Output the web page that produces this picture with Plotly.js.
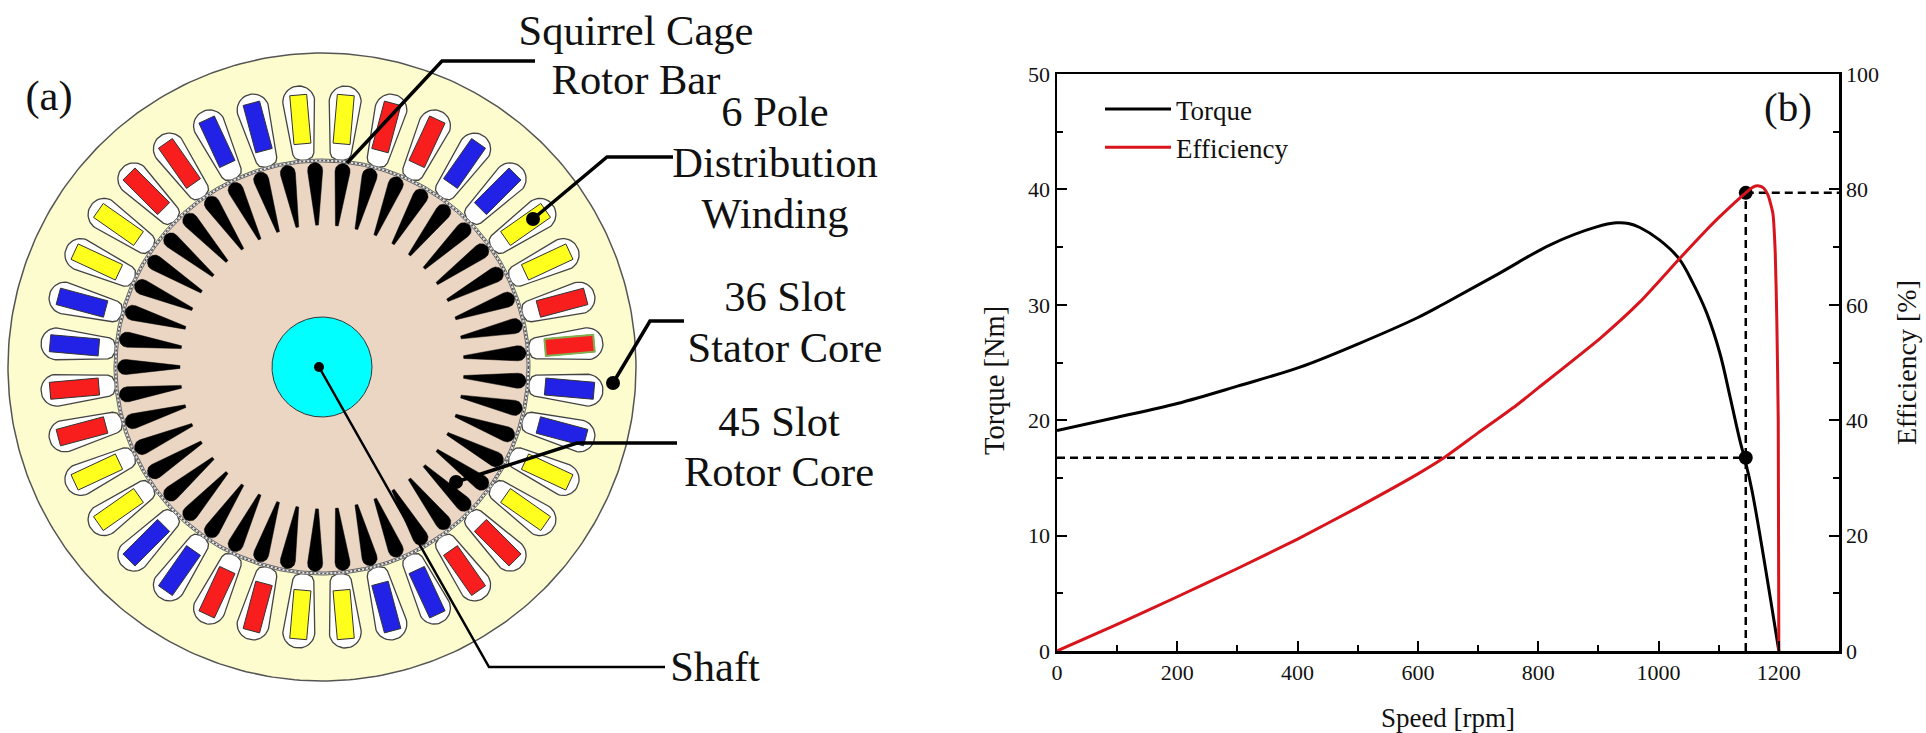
<!DOCTYPE html>
<html><head><meta charset="utf-8">
<script src="https://cdn.plot.ly/plotly-3.0.1.min.js"></script>
<style>html,body{margin:0;padding:0;background:#fff}#c{width:1926px;height:733px}</style>
</head><body><div id="c"></div>
<script>
// ---------- panel (b): values ----------
const torqueSpeed = [0,100,200,300,404,500,600,642,736,820,897,930,950,969,1002,1034,1057,1080,1102,1119,1135,1143,1155,1200];
const torqueValue = [19.1,20.25,21.45,22.95,24.6,26.6,28.9,30.05,32.75,35.2,36.75,37.1,37.05,36.7,35.6,34.0,31.9,29.3,25.8,22.0,18.3,16.7,14.0,0];
const effSpeed = [0,100,200,300,400,500,600,642,700,764,800,903,969,1034,1080,1100,1135,1157,1167,1175,1182,1190,1194,1196.6,1199,1200];
const effValue = [0,4.6,9.4,14.3,19.4,24.9,30.7,33.4,37.8,42.6,45.6,54.2,60.5,67.9,73,75.1,78.5,80.4,80.6,80.2,79,75.9,69,57.4,40,0];
const ratedSpeed = 1145, ratedTorque = 16.75, ratedEff = 79.4;
const xTicks = [0,200,400,600,800,1000,1200];
const yTicks = [0,10,20,30,40,50];
const y2Ticks = [0,20,40,60,80,100];

// ---------- panel (a): motor cross-section, lengths in image px from the shaft centre ----------
const windingPhases = ['Y','Y','R','R','B','B']; // repeats, clockwise, starting at 355 deg then +10 deg per slot
const statorSlots = 36, rotorSlots = 45;
const labels = ['Squirrel Cage','Rotor Bar','6 Pole','Distribution','Winding','36 Slot','Stator Core','45 Slot','Rotor Core','Shaft','(a)'];
const labelX = [314,314,453,453,453,463,463,457,457,393,-273];
const labelY = [-333,-284,-252,-201,-150,-67,-16,58,108,303,-268];
const leaderRotorBarX = [25,120,213], leaderRotorBarY = [-204,-306,-306];
const leaderWindingX = [211,285,351], leaderWindingY = [-148,-210,-210];
const leaderStatorX = [291,328,362], leaderStatorY = [16,-46,-46];
const leaderRotorX = [134,255,355], leaderRotorY = [115,76,76];
const leaderShaftX = [-3,167,343], leaderShaftY = [0,300,300];
const dotX = [211,291,134], dotY = [-148,16,115];

const cols = {Y:'#FFFF1E', R:'#F81E1E', B:'#2222E6'};
function circle(r){const x=[],y=[];for(let i=0;i<=360;i++){const a=i/360*2*Math.PI;x.push(r*Math.cos(a));y.push(r*Math.sin(a));}return {x,y};}
function radial(poly,deg){const a=deg*Math.PI/180,s=Math.sin(a),c=Math.cos(a),x=[],y=[];
  poly.forEach(p=>{x.push(p[0]*s+p[1]*c);y.push(-p[0]*c+p[1]*s);});x.push(x[0]);y.push(y[0]);return {x,y};}
function mirrored(side){return side.concat(side.slice().reverse().map(p=>[p[0],-p[1]]));}
const slotSide=[[206,1.5],[208,4],[210,8.5],[214,10.5],[224,11.5]];
for(let i=0;i<12;i++){const a=i/12*Math.PI/2;slotSide.push([266+16*Math.sin(a),16*Math.cos(a)]);}
const slotPoly=mirrored(slotSide);
const copperPoly=[[224,-8.5],[273,-8.5],[273,8.5],[224,8.5]];
const barPoly=mirrored([[142,1.4],[170,4.8],[196,7.5],[200,7],[203,4.5],[204.5,1]]);
function group(list){const x=[],y=[];list.forEach(g=>{x.push(...g.x,null);y.push(...g.y,null);});return {x,y};}

const motor=(g,fill,line,w,dash)=>({type:'scatter',mode:'lines',x:g.x,y:g.y,xaxis:'x3',yaxis:'y3',fill:fill?'toself':'none',fillcolor:fill||undefined,
  line:{color:line,width:w,dash:dash||'solid'},hoverinfo:'skip',showlegend:false});
const stroke=(x,y,w)=>({type:'scatter',mode:'lines',x,y,xaxis:'x3',yaxis:'y3',line:{color:'#000',width:w},hoverinfo:'skip',showlegend:false});

const traces=[];
traces.push(motor(circle(314),'#FCFCCE','#555',1.5));
const slotAngles=[];for(let i=0;i<statorSlots;i++)slotAngles.push(-5+i*360/statorSlots);
traces.push(motor(group(slotAngles.map(a=>radial(slotPoly,a))),'#FFFFFF','#444',1.3));
['Y','R','B'].forEach(k=>{
  const list=slotAngles.filter((a,i)=>windingPhases[i%windingPhases.length]===k).map(a=>radial(copperPoly,a));
  traces.push(motor(group(list),cols[k],'#333',1));
});
traces.push(motor(radial(copperPoly,85),cols.R,'#7FB050',2));
traces.push(motor(circle(208),'#E4E4E4','#666',1));
traces.push(motor(circle(206.5),null,'#555',1.6,'2px,2px'));
traces.push(motor(circle(205),'#EBD6C3','#666',1));
const barAngles=[];for(let i=0;i<rotorSlots;i++)barAngles.push(-2+i*360/rotorSlots);
traces.push(motor(group(barAngles.map(a=>radial(barPoly,a))),'#000','#000',0.5));
traces.push(motor(circle(50),'#00FFFF','#333',1));
traces.push(stroke(leaderRotorBarX,leaderRotorBarY,3.5));
traces.push(stroke(leaderWindingX,leaderWindingY,3.5));
traces.push(stroke(leaderStatorX,leaderStatorY,3.5));
traces.push(stroke(leaderRotorX,leaderRotorY,3.5));
traces.push(stroke(leaderShaftX,leaderShaftY,2.5));
traces.push({type:'scatter',mode:'markers',x:dotX,y:dotY,xaxis:'x3',yaxis:'y3',marker:{color:'#000',size:14},hoverinfo:'skip',showlegend:false});
traces.push({type:'scatter',mode:'markers',x:[leaderShaftX[0]],y:[leaderShaftY[0]],xaxis:'x3',yaxis:'y3',marker:{color:'#000',size:10},hoverinfo:'skip',showlegend:false});
traces.push({type:'scatter',mode:'text',x:labelX,y:labelY,text:labels,xaxis:'x3',yaxis:'y3',textposition:'middle center',
  textfont:{family:'Liberation Serif',size:42.5,color:'#111'},hoverinfo:'skip',showlegend:false,cliponaxis:false});

// chart (b)
traces.push({type:'scatter',mode:'lines',name:'Torque',x:torqueSpeed,y:torqueValue,line:{color:'#000',width:3,shape:'spline',smoothing:1}});
traces.push({type:'scatter',mode:'lines',name:'Efficiency',x:effSpeed,y:effValue,yaxis:'y2',line:{color:'#D8141C',width:3,shape:'spline',smoothing:0.5}});
const dash=(x,y)=>({type:'scatter',mode:'lines',x,y,line:{color:'#000',width:2.5,dash:'8px,5px'},hoverinfo:'skip',showlegend:false});
traces.push(dash([0,ratedSpeed],[ratedTorque,ratedTorque]));
traces.push(dash([ratedSpeed,ratedSpeed],[0,ratedEff/2]));
traces.push(dash([ratedSpeed,1300],[ratedEff/2,ratedEff/2]));
traces.push({type:'scatter',mode:'markers',x:[ratedSpeed,ratedSpeed],y:[ratedTorque,ratedEff/2],marker:{color:'#000',size:14},hoverinfo:'skip',showlegend:false});

const W=1926,H=733,L=1057,R=1839,T=74,B=651;
const tfont={family:'Liberation Serif',size:22,color:'#111'};
const minor=(d)=>({dtick:d,ticks:'inside',ticklen:6,tickwidth:2,tickcolor:'#000'});
const axis=(o)=>Object.assign({showgrid:false,zeroline:false,ticks:'inside',ticklen:10,tickwidth:2,tickcolor:'#000',
  showline:true,linewidth:2.5,linecolor:'#000',tickfont:tfont,automargin:false},o);
const tf=(s)=>({family:'Liberation Serif',size:s,color:'#111'});
const layout={
  width:W,height:H,margin:{l:0,r:0,t:0,b:0},paper_bgcolor:'#fff',plot_bgcolor:'rgba(0,0,0,0)',showlegend:true,
  font:{family:'Liberation Serif'},
  xaxis:axis({domain:[L/W,R/W],range:[0,1300],tickvals:xTicks,mirror:true,minor:minor(100),
    title:{text:'Speed [rpm]',font:tf(27),standoff:26},anchor:'y'}),
  yaxis:axis({domain:[1-B/H,1-T/H],range:[0,50],tickvals:yTicks,minor:minor(5),anchor:'x'}),
  yaxis2:axis({domain:[1-B/H,1-T/H],range:[0,100],tickvals:y2Ticks,overlaying:'y',side:'right',anchor:'x',minor:minor(10),
    title:{text:'Efficiency [%]',font:tf(28),standoff:19}}),
  xaxis3:{domain:[0,1],range:[-322,1604],visible:false,anchor:'y3',fixedrange:true},
  yaxis3:{domain:[0,1],range:[366,-367],visible:false,anchor:'x3',fixedrange:true},
  legend:{x:1100/W,y:1-85/H,xanchor:'left',yanchor:'top',bgcolor:'rgba(0,0,0,0)',itemwidth:66,
    font:tf(27),itemclick:false,itemdoubleclick:false},
  annotations:[
    {xref:'x',yref:'y',x:1215,y:47.1,text:'(b)',showarrow:false,font:tf(41)},
    {xref:'paper',yref:'paper',x:994/W,y:1-381/H,text:'Torque [Nm]',textangle:-90,showarrow:false,font:tf(28.5)}
  ]
};
Plotly.newPlot('c',traces,layout,{displayModeBar:false,staticPlot:true});
</script></body></html>
